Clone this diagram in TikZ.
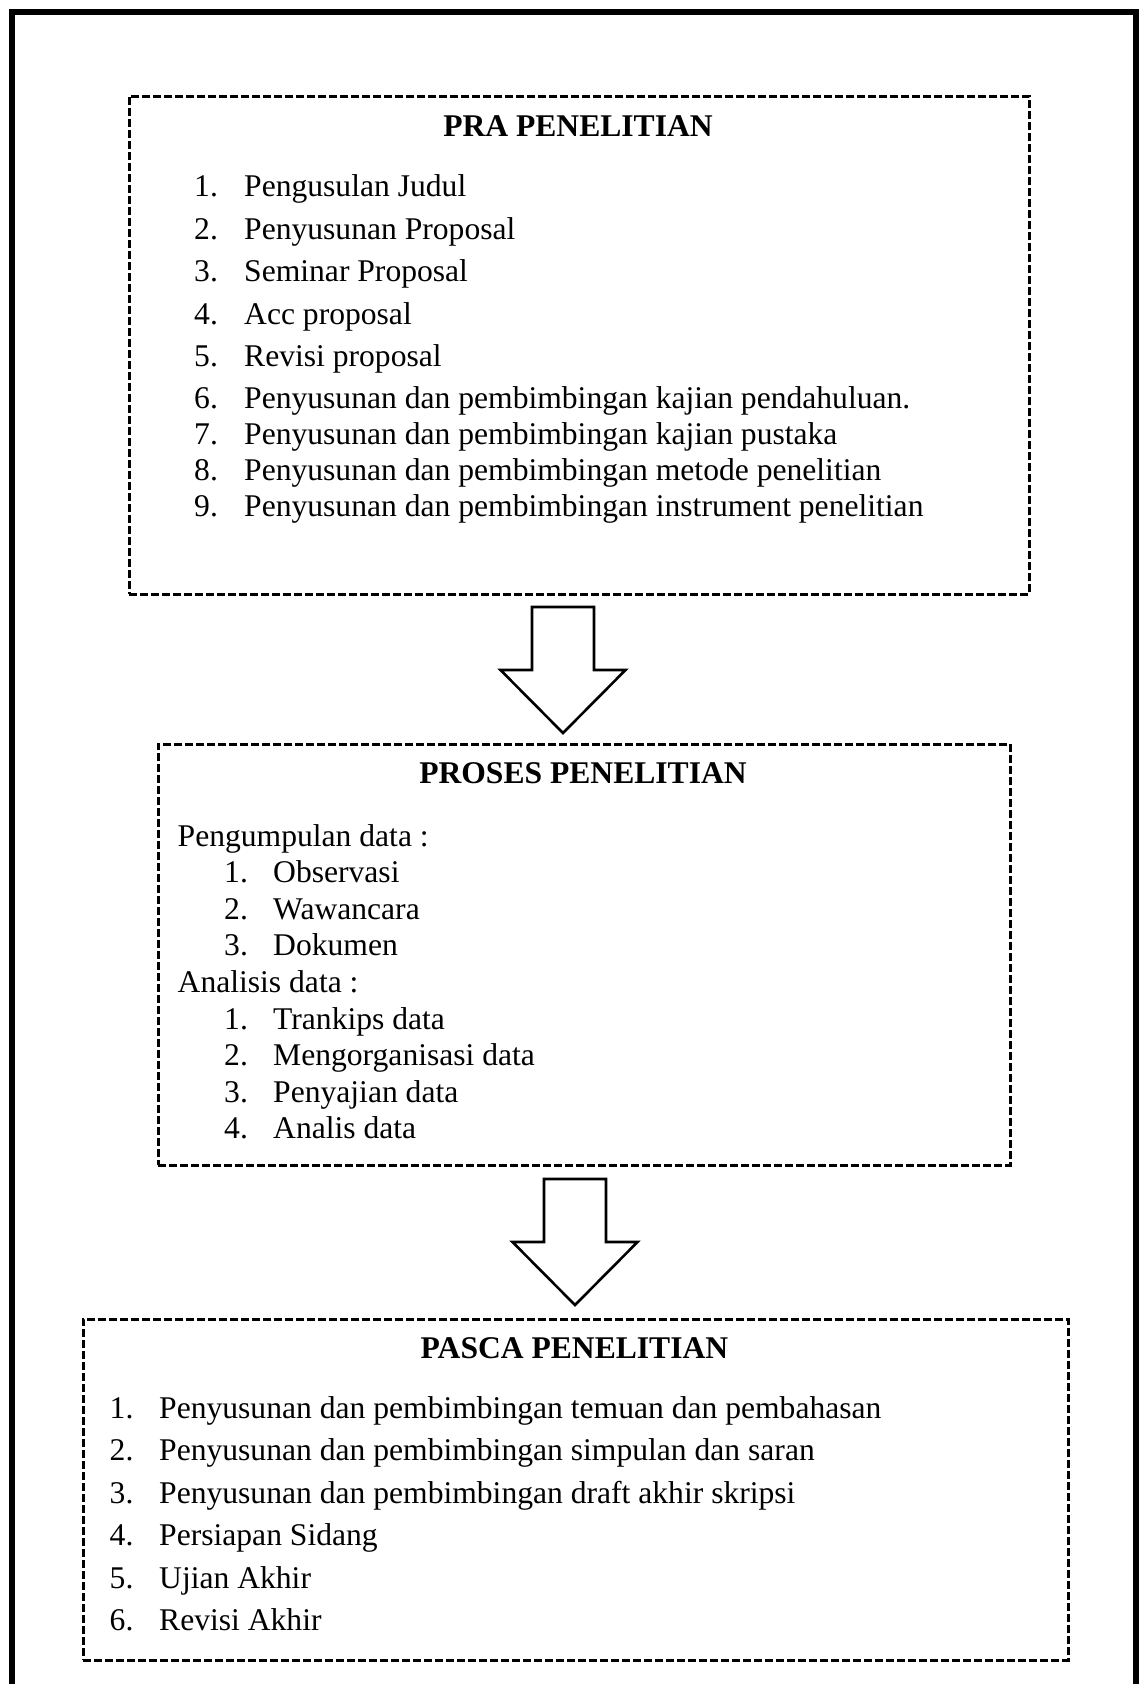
\documentclass[tikz,border=0pt]{standalone}
\usepackage{fontspec}
\setmainfont{Liberation Serif}
\begin{document}
\begin{tikzpicture}[x=1pt,y=-1pt,
  frame/.style={line width=6pt, line join=miter},
  dashbox/.style={draw, line width=2.6pt, dash pattern=on 8pt off 3pt, inner sep=0pt, anchor=north west},
  txt/.style={font=\fontsize{31.6}{36}\selectfont, anchor=base west, inner sep=0pt},
  ttl/.style={font=\fontsize{31.6}{36}\selectfont\bfseries, anchor=base, inner sep=0pt},
  blk/.style={draw, line width=2.6pt, line join=miter, fill=white},
  blockarrow/.pic={\draw[blk] (-31,0) -- (31,0) -- (31,63) -- (62.5,63) -- (0,126) -- (-62.5,63) -- (-31,63) -- cycle;}
]
\useasboundingbox (0,0) rectangle (1139,1684);
\fill[white] (0,0) rectangle (1139,1684);
% outer frame (bottom edge lies below the page)
\draw[frame] (12,1700) -- (12,12) -- (1136,12) -- (1136,1700);

% ---------- PRA PENELITIAN ----------
\node[dashbox, minimum width=900pt, minimum height=498pt] (pra) at (128,95) {};
\node[ttl] (praT) at (578,136.6) {PRA PENELITIAN};
\foreach \n/\t/\y [count=\i] in {
  1/Pengusulan Judul/196.7,
  2/Penyusunan Proposal/239,
  3/Seminar Proposal/281.5,
  4/Acc proposal/324,
  5/Revisi proposal/366.5,
  6/Penyusunan dan pembimbingan kajian pendahuluan./408.5,
  7/Penyusunan dan pembimbingan kajian pustaka/444.5,
  8/Penyusunan dan pembimbingan metode penelitian/480.5,
  9/Penyusunan dan pembimbingan instrument penelitian/516.5}{
  \node[txt] (praN\i) at (194,\y) {\n.};
  \node[txt] (praI\i) at (244,\y) {\t};
}

% arrow 1
\coordinate (a1) at (563,607);
\pic at (a1) {blockarrow};

% ---------- PROSES PENELITIAN ----------
\node[dashbox, minimum width=852pt, minimum height=421pt] (pro) at (157,743) {};
\node[ttl] (proT) at (583,783.5) {PROSES PENELITIAN};
\node[txt] (proH1) at (177.5,846) {Pengumpulan data :};
\node[txt] (proN1) at (224,882.6) {1.};
\node[txt] (proI1) at (273,882.6) {Observasi};
\node[txt] (proN2) at (224,919.2) {2.};
\node[txt] (proI2) at (273,919.2) {Wawancara};
\node[txt] (proN3) at (224,955.8) {3.};
\node[txt] (proI3) at (273,955.8) {Dokumen};
\node[txt] (proH2) at (177.5,992.4) {Analisis data :};
\node[txt] (proN4) at (224,1029) {1.};
\node[txt] (proI4) at (273,1029) {Trankips data};
\node[txt] (proN5) at (224,1065.6) {2.};
\node[txt] (proI5) at (273,1065.6) {Mengorganisasi data};
\node[txt] (proN6) at (224,1102.2) {3.};
\node[txt] (proI6) at (273,1102.2) {Penyajian data};
\node[txt] (proN7) at (224,1138.8) {4.};
\node[txt] (proI7) at (273,1138.8) {Analis data};

% arrow 2
\coordinate (a2) at (575,1179);
\pic at (a2) {blockarrow};

% ---------- PASCA PENELITIAN ----------
\node[dashbox, minimum width=985pt, minimum height=341pt] (pas) at (82,1318) {};
\node[ttl] (pasT) at (574.5,1358) {PASCA PENELITIAN};
\foreach \n/\t/\y [count=\i] in {
  1/Penyusunan dan pembimbingan temuan dan pembahasan/1418,
  2/Penyusunan dan pembimbingan simpulan dan saran/1460.5,
  3/Penyusunan dan pembimbingan draft akhir skripsi/1503,
  4/Persiapan Sidang/1545.5,
  5/Ujian Akhir/1588,
  6/Revisi Akhir/1630.5}{
  \node[txt] (pasN\i) at (109.5,\y) {\n.};
  \node[txt] (pasI\i) at (159,\y) {\t};
}
\end{tikzpicture}
\end{document}
